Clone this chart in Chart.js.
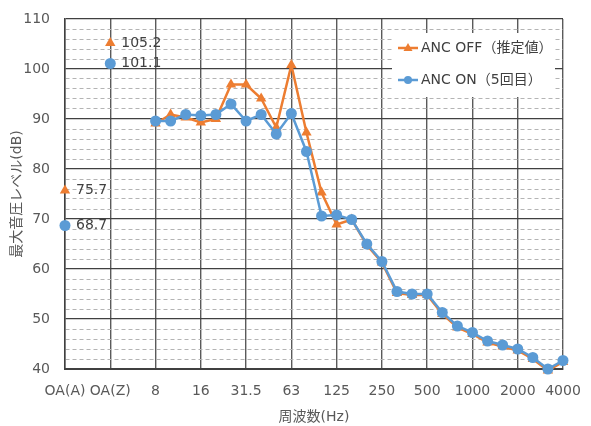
<!DOCTYPE html>
<html>
<head>
<meta charset="utf-8">
<script src="https://cdn.jsdelivr.net/npm/chart.js@4"></script>
<style>
  html, body { margin: 0; padding: 0; background: #fff; }
  #wrap { width: 591px; height: 426px; }
</style>
</head>
<body>
<div id="wrap"><canvas id="chart"></canvas></div>
<script>
// Tick labels on the x axis (OA values, then octave centres)
const tickLabels = ['OA(A)', 'OA(Z)', '8', '16', '31.5', '63', '125', '250', '500', '1000', '2000', '4000'];

// 1/3 octave band centre frequencies
const bands = ['8', '10', '12.5', '16', '20', '25', '31.5', '40', '50', '63', '80', '100', '125', '160',
    '200', '250', '315', '400', '500', '630', '800', '1000', '1250', '1600', '2000', '2500', '3150', '4000'];

// Band levels (dB)
const offBand = [89.1, 90.9, 90.3, 89.3, 90.0, 96.9, 96.9, 94.1, 88.3, 100.8, 87.3, 75.3, 68.9, 69.9,
    64.8, 61.3, 55.2, 54.8, 54.8, 51.0, 48.3, 47.0, 45.3, 44.5, 43.7, 42.0, 39.7, 41.4];
const onBand = [89.6, 89.6, 90.9, 90.7, 90.9, 93.0, 89.6, 90.9, 87.0, 91.1, 83.5, 70.6, 70.8, 69.9,
    65.0, 61.5, 55.5, 55.0, 55.0, 51.3, 48.6, 47.3, 45.6, 44.8, 44.0, 42.3, 40.0, 41.7];

// Overall values: OA(A), OA(Z)
const overall = ['OA(A)', 'OA(Z)'];
const offOverall = [75.7, 105.2];
const onOverall = [68.7, 101.1];

const seriesNames = ['ANC OFF（推定値）', 'ANC ON（5回目）'];

const orange = '#ED7D31';
const blue = '#5B9BD5';
const textCol = '#595959';
const FONT = "'DejaVu Sans', 'Noto Sans CJK JP', sans-serif";

// position on the x axis: OA at 0 and 3, bands from 6 in 1/3 octave steps
const bandPts = vals => vals.map((v, i) => ({ x: 6 + i, y: v }));
const oaPts = vals => vals.map((v, i) => ({ x: 3 * i, y: v }));

// value labels next to the OA points
const oaLabelPlugin = {
    id: 'oaLabels',
    afterDatasetsDraw(chart) {
        const { ctx } = chart;
        ctx.save();
        ctx.font = '14px ' + FONT;
        ctx.fillStyle = '#404040';
        ctx.textAlign = 'left';
        ctx.textBaseline = 'middle';
        chart.data.datasets.forEach((ds, di) => {
            if (!ds.oa) return;
            const meta = chart.getDatasetMeta(di);
            meta.data.forEach((pt, i) => {
                ctx.fillText(ds.data[i].y.toFixed(1), pt.x + 11, pt.y);
            });
        });
        ctx.restore();
    }
};

// legend box inside the plot
const legendBoxPlugin = {
    id: 'legendBox',
    afterDraw(chart) {
        const { ctx } = chart;
        ctx.save();
        ctx.fillStyle = '#fff';
        ctx.fillRect(392, 33, 163, 64);
        const items = [
            { name: seriesNames[0], color: orange, style: 'triangle', y: 48 },
            { name: seriesNames[1], color: blue, style: 'circle', y: 80 }
        ];
        items.forEach(it => {
            ctx.strokeStyle = it.color;
            ctx.lineWidth = 2.5;
            ctx.beginPath();
            ctx.moveTo(398, it.y);
            ctx.lineTo(418, it.y);
            ctx.stroke();
            ctx.fillStyle = it.color;
            ctx.beginPath();
            if (it.style === 'circle') {
                ctx.arc(408, it.y, 4, 0, Math.PI * 2);
            } else {
                ctx.moveTo(408, it.y - 5);
                ctx.lineTo(412.5, it.y + 3);
                ctx.lineTo(403.5, it.y + 3);
                ctx.closePath();
            }
            ctx.fill();
            ctx.fillStyle = '#404040';
            ctx.font = '14px ' + FONT;
            ctx.textAlign = 'left';
            ctx.textBaseline = 'middle';
            ctx.fillText(it.name, 421, it.y);
        });
        ctx.restore();
    }
};

function initChart() {
    const el = document.getElementById('chart');
    new Chart(el, {
        type: 'line',
        data: {
            datasets: [
                {
                    label: seriesNames[1], data: bandPts(onBand),
                    borderColor: blue, backgroundColor: blue, borderWidth: 2.5,
                    pointStyle: 'circle', pointRadius: 5.5, pointBorderWidth: 0,
                    clip: false
                },
                {
                    label: seriesNames[1] + ' OA', data: oaPts(onOverall), oa: true, showLine: false,
                    borderColor: blue, backgroundColor: blue,
                    pointStyle: 'circle', pointRadius: 5.5, pointBorderWidth: 0,
                    clip: false
                },
                {
                    label: seriesNames[0], data: bandPts(offBand),
                    borderColor: orange, backgroundColor: orange, borderWidth: 2.5,
                    pointStyle: 'triangle', pointRadius: 6, pointBorderWidth: 0,
                    clip: false
                },
                {
                    label: seriesNames[0] + ' OA', data: oaPts(offOverall), oa: true, showLine: false,
                    borderColor: orange, backgroundColor: orange,
                    pointStyle: 'triangle', pointRadius: 6, pointBorderWidth: 0,
                    clip: false
                }
            ]
        },
        options: {
            responsive: true,
            maintainAspectRatio: false,
            animation: false,
            layout: { padding: { top: 19, right: 28, left: 0, bottom: 0 } },
            plugins: {
                legend: { display: false },
                tooltip: { enabled: false }
            },
            scales: {
                x: {
                    type: 'linear', min: 0, max: 33,
                    afterBuildTicks: s => { s.ticks = tickLabels.map((_, i) => ({ value: i * 3 })); },
                    afterFit: s => { s.height = 57; s.paddingLeft = 0; s.paddingRight = 0; },
                    ticks: {
                        callback: v => tickLabels[Math.round(v / 3)],
                        color: textCol, font: { family: FONT, size: 14 },
                        padding: 14, maxRotation: 0, autoSkip: false
                    },
                    grid: { color: '#5a5a5a', lineWidth: 1.4, drawTicks: false },
                    border: { color: '#404040', width: 2 },
                    title: {
                        display: true, text: '周波数(Hz)', color: textCol,
                        font: { family: FONT, size: 14 }, padding: { top: 0, bottom: 0 }
                    }
                },
                y: {
                    min: 40, max: 110,
                    afterFit: s => { s.width = 65; s.paddingTop = 0; s.paddingBottom = 0; },
                    ticks: {
                        stepSize: 2, autoSkip: false,
                        callback: v => (v % 10 === 0 ? v : ''),
                        color: textCol, font: { family: FONT, size: 14 }, padding: 15
                    },
                    grid: {
                        drawTicks: false,
                        color: c => (c.tick && c.tick.value % 10 !== 0 ? '#b4b4b4' : '#404040'),
                        lineWidth: c => (c.tick && c.tick.value % 10 !== 0 ? 1 : 1.2)
                    },
                    border: {
                        color: '#404040', width: 1.5,
                        dash: c => (c.tick && c.tick.value % 10 !== 0 ? [4, 3] : [])
                    },
                    title: {
                        display: true, text: '最大音圧レベル(dB)', color: textCol,
                        font: { family: FONT, size: 14 }, padding: { top: 9, bottom: 0 }
                    }
                }
            }
        },
        plugins: [oaLabelPlugin, legendBoxPlugin]
    });
}

document.addEventListener('DOMContentLoaded', initChart);
</script>
</body>
</html>
